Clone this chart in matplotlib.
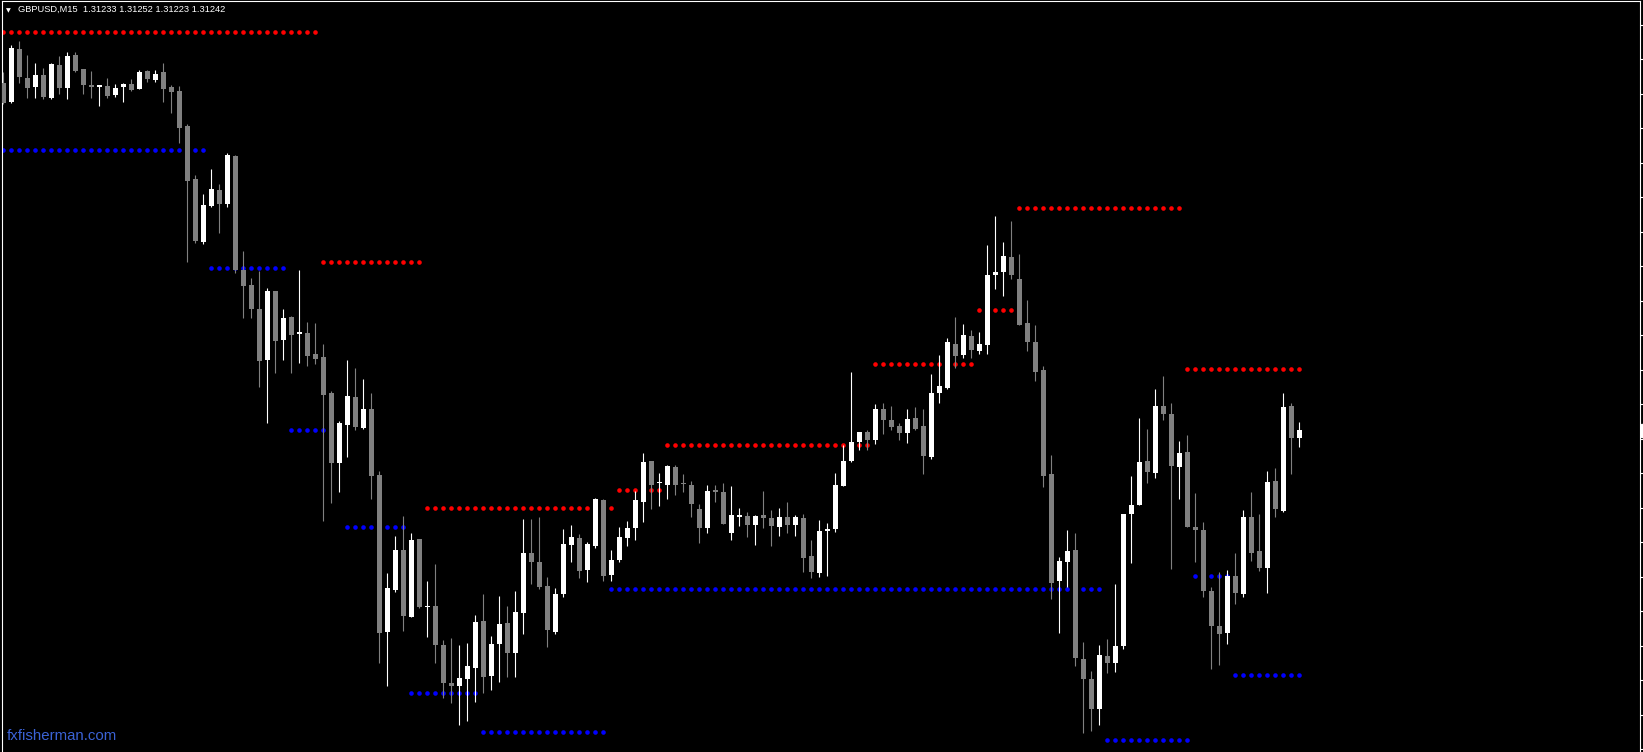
import numpy as np
import matplotlib
matplotlib.use('Agg')
import matplotlib.pyplot as plt

# GBPUSD M15 bars (oldest first)
symbol = "GBPUSD,M15"

opens = [
    1.31645, 1.31623, 1.31684, 1.31651, 1.31640, 1.31654, 1.31627, 1.31666, 1.31639, 1.31677,
    1.31661, 1.31642, 1.31640, 1.31641, 1.31631, 1.31640, 1.31644, 1.31638, 1.31659, 1.31648,
    1.31657, 1.31640, 1.31635, 1.31595, 1.31533, 1.31460, 1.31502, 1.31521, 1.31504, 1.31560,
    1.31428, 1.31410, 1.31383, 1.31323, 1.31403, 1.31347, 1.31373, 1.31354, 1.31355, 1.31330,
    1.31327, 1.31285, 1.31204, 1.31248, 1.31280, 1.31244, 1.31267, 1.31190, 1.31008, 1.31057,
    1.31103, 1.31025, 1.31116, 1.31037, 1.31038, 1.30993, 1.30949, 1.30945, 1.30953, 1.30966,
    1.31021, 1.30957, 1.30994, 1.31018, 1.30983, 1.31030, 1.31099, 1.31089, 1.31061, 1.31008,
    1.31052, 1.31109, 1.31117, 1.31080, 1.31108, 1.31161, 1.31074, 1.31091, 1.31117, 1.31128,
    1.31159, 1.31206, 1.31181, 1.31178, 1.31199, 1.31181, 1.31178, 1.31151, 1.31128, 1.31173,
    1.31170, 1.31123, 1.31141, 1.31142, 1.31132, 1.31144, 1.31140, 1.31130, 1.31141, 1.31132,
    1.31140, 1.31096, 1.31076, 1.31125, 1.31127, 1.31177, 1.31206, 1.31228, 1.31240, 1.31231,
    1.31267, 1.31254, 1.31247, 1.31239, 1.31256, 1.31247, 1.31211, 1.31285, 1.31291, 1.31342,
    1.31329, 1.31351, 1.31334, 1.31341, 1.31422, 1.31425, 1.31443, 1.31417, 1.31366, 1.31344,
    1.31312, 1.31191, 1.31067, 1.31089, 1.31103, 1.30977, 1.30953, 1.30919, 1.30980, 1.30972,
    1.30992, 1.31145, 1.31155, 1.31206, 1.31192, 1.31270, 1.31261, 1.31199, 1.31217, 1.31130,
    1.31126, 1.31055, 1.31015, 1.31007, 1.31073, 1.31052, 1.31141, 1.31102, 1.31082, 1.31183,
    1.31148, 1.31270, 1.31233,
]

highs = [
    1.31657, 1.31689, 1.31693, 1.31677, 1.31668, 1.31662, 1.31668, 1.31676, 1.31681, 1.31681,
    1.31661, 1.31659, 1.31642, 1.31651, 1.31644, 1.31645, 1.31649, 1.31660, 1.31660, 1.31660,
    1.31668, 1.31642, 1.31641, 1.31597, 1.31538, 1.31516, 1.31545, 1.31528, 1.31564, 1.31561,
    1.31450, 1.31419, 1.31427, 1.31407, 1.31403, 1.31383, 1.31374, 1.31428, 1.31367, 1.31366,
    1.31342, 1.31287, 1.31253, 1.31323, 1.31314, 1.31301, 1.31285, 1.31195, 1.31076, 1.31119,
    1.31142, 1.31123, 1.31116, 1.31067, 1.31087, 1.30999, 1.31001, 1.30993, 1.30995, 1.31028,
    1.31052, 1.31003, 1.31050, 1.31038, 1.31055, 1.31139, 1.31139, 1.31141, 1.31072, 1.31059,
    1.31127, 1.31132, 1.31122, 1.31112, 1.31163, 1.31162, 1.31103, 1.31130, 1.31137, 1.31171,
    1.31215, 1.31206, 1.31192, 1.31202, 1.31202, 1.31191, 1.31183, 1.31156, 1.31178, 1.31178,
    1.31181, 1.31177, 1.31152, 1.31147, 1.31144, 1.31171, 1.31149, 1.31152, 1.31159, 1.31144,
    1.31145, 1.31115, 1.31138, 1.31134, 1.31192, 1.31225, 1.31309, 1.31240, 1.31242, 1.31272,
    1.31273, 1.31270, 1.31250, 1.31267, 1.31269, 1.31267, 1.31307, 1.31329, 1.31349, 1.31373,
    1.31365, 1.31358, 1.31356, 1.31457, 1.31490, 1.31460, 1.31485, 1.31446, 1.31393, 1.31364,
    1.31316, 1.31213, 1.31095, 1.31126, 1.31123, 1.30996, 1.30963, 1.30993, 1.31000, 1.31064,
    1.31145, 1.31189, 1.31256, 1.31243, 1.31290, 1.31305, 1.31273, 1.31229, 1.31236, 1.31169,
    1.31135, 1.31060, 1.31077, 1.31080, 1.31099, 1.31149, 1.31170, 1.31145, 1.31195, 1.31198,
    1.31285, 1.31273, 1.31252,
]

lows = [
    1.31620, 1.31621, 1.31645, 1.31627, 1.31627, 1.31626, 1.31626, 1.31632, 1.31626, 1.31657,
    1.31632, 1.31627, 1.31618, 1.31627, 1.31628, 1.31623, 1.31635, 1.31638, 1.31646, 1.31646,
    1.31623, 1.31610, 1.31575, 1.31437, 1.31459, 1.31458, 1.31501, 1.31471, 1.31501, 1.31424,
    1.31372, 1.31372, 1.31292, 1.31250, 1.31308, 1.31323, 1.31308, 1.31320, 1.31316, 1.31319,
    1.31137, 1.31157, 1.31170, 1.31211, 1.31242, 1.31243, 1.31162, 1.30972, 1.30945, 1.31054,
    1.31009, 1.31025, 1.31036, 1.31002, 1.30972, 1.30931, 1.30925, 1.30900, 1.30905, 1.30927,
    1.30937, 1.30941, 1.30950, 1.30956, 1.30956, 1.31006, 1.31064, 1.31058, 1.30990, 1.31006,
    1.31048, 1.31089, 1.31070, 1.31066, 1.31105, 1.31067, 1.31067, 1.31089, 1.31108, 1.31115,
    1.31135, 1.31151, 1.31154, 1.31162, 1.31167, 1.31170, 1.31141, 1.31111, 1.31123, 1.31159,
    1.31133, 1.31115, 1.31131, 1.31118, 1.31109, 1.31128, 1.31108, 1.31119, 1.31123, 1.31119,
    1.31077, 1.31070, 1.31072, 1.31073, 1.31124, 1.31177, 1.31205, 1.31219, 1.31219, 1.31226,
    1.31238, 1.31242, 1.31231, 1.31227, 1.31242, 1.31191, 1.31209, 1.31273, 1.31290, 1.31314,
    1.31326, 1.31326, 1.31330, 1.31330, 1.31406, 1.31398, 1.31417, 1.31364, 1.31334, 1.31299,
    1.31176, 1.31046, 1.31007, 1.31060, 1.30968, 1.30891, 1.30893, 1.30900, 1.30960, 1.30961,
    1.30988, 1.31088, 1.31155, 1.31181, 1.31186, 1.31254, 1.31081, 1.31162, 1.31130, 1.31089,
    1.31048, 1.30965, 1.30970, 1.30994, 1.31040, 1.31048, 1.31090, 1.31079, 1.31053, 1.31141,
    1.31147, 1.31191, 1.31223,
]

closes = [
    1.31621, 1.31685, 1.31652, 1.31639, 1.31654, 1.31628, 1.31667, 1.31639, 1.31676, 1.31659,
    1.31642, 1.31640, 1.31642, 1.31630, 1.31639, 1.31644, 1.31637, 1.31657, 1.31649, 1.31655,
    1.31638, 1.31634, 1.31592, 1.31531, 1.31461, 1.31503, 1.31522, 1.31504, 1.31561, 1.31428,
    1.31409, 1.31383, 1.31322, 1.31403, 1.31345, 1.31372, 1.31352, 1.31356, 1.31328, 1.31325,
    1.31283, 1.31204, 1.31250, 1.31282, 1.31246, 1.31267, 1.31189, 1.31007, 1.31059, 1.31103,
    1.31026, 1.31115, 1.31037, 1.31038, 1.30993, 1.30949, 1.30945, 1.30955, 1.30968, 1.31019,
    1.30956, 1.30994, 1.31017, 1.30983, 1.31031, 1.31099, 1.31089, 1.31060, 1.31010, 1.31052,
    1.31110, 1.31118, 1.31079, 1.31110, 1.31162, 1.31073, 1.31091, 1.31118, 1.31128, 1.31161,
    1.31205, 1.31178, 1.31182, 1.31200, 1.31178, 1.31180, 1.31156, 1.31128, 1.31171, 1.31170,
    1.31133, 1.31144, 1.31144, 1.31132, 1.31142, 1.31140, 1.31131, 1.31141, 1.31132, 1.31141,
    1.31094, 1.31077, 1.31125, 1.31127, 1.31178, 1.31206, 1.31228, 1.31240, 1.31231, 1.31267,
    1.31254, 1.31246, 1.31239, 1.31255, 1.31243, 1.31212, 1.31285, 1.31293, 1.31344, 1.31328,
    1.31352, 1.31335, 1.31342, 1.31422, 1.31425, 1.31444, 1.31422, 1.31364, 1.31344, 1.31309,
    1.31189, 1.31065, 1.31090, 1.31102, 1.30978, 1.30953, 1.30919, 1.30981, 1.30972, 1.30992,
    1.31145, 1.31155, 1.31205, 1.31193, 1.31270, 1.31261, 1.31200, 1.31215, 1.31130, 1.31126,
    1.31055, 1.31015, 1.31006, 1.31073, 1.31053, 1.31141, 1.31099, 1.31082, 1.31182, 1.31151,
    1.31269, 1.31233, 1.31242,
]

# Resistance levels (red dots): first bar, last bar, price
red_start = [0, 40, 53, 77, 83, 109, 122, 127, 148]
red_end = [39, 52, 76, 82, 108, 121, 126, 147, 162]
red_price = [1.31704, 1.31437, 1.31152, 1.31173, 1.31225, 1.31319, 1.31381, 1.31500, 1.31313]

# Support levels (blue dots)
blue_start = [0, 26, 36, 43, 51, 60, 76, 138, 149, 154]
blue_end = [25, 35, 42, 50, 59, 75, 137, 148, 153, 162]
blue_price = [1.31567, 1.31430, 1.31242, 1.31130, 1.30937, 1.30892, 1.31058, 1.30883, 1.31073, 1.30958]

# price scale marks on the right edge
price_ticks = [1.31712, 1.31672, 1.31632, 1.31592, 1.31552, 1.31512, 1.31472, 1.31432,
               1.31392, 1.31352, 1.31312, 1.31272, 1.31232, 1.31192, 1.31152, 1.31112,
               1.31072, 1.31032, 1.30992, 1.30952, 1.30912, 1.30872]


W, H = 1643, 752
fig = plt.figure(figsize=(W / 100, H / 100), dpi=100, facecolor='black')
ax = fig.add_axes([2 / W, 0, 1638 / W, 751 / H])
ax.set_facecolor('black')

o = np.array(opens)
h = np.array(highs)
l = np.array(lows)
c = np.array(closes)
x = np.arange(len(o))
bull = c >= o
colors = np.where(bull, 'white', '#808080')

# Level dots, one per bar, behind the candles
for s, e, p in zip(red_start, red_end, red_price):
    xs = np.arange(s, e + 1)
    ax.plot(xs, [p] * len(xs), 'o', color='#ff0000', ms=3.3, mew=0, zorder=1)
for s, e, p in zip(blue_start, blue_end, blue_price):
    xs = np.arange(s, e + 1)
    ax.plot(xs, [p] * len(xs), 'o', color='#0000ff', ms=3.3, mew=0, zorder=1)

# Candles
ax.vlines(x, l, h, colors=colors, linewidth=0.8, zorder=2)
body = np.maximum(np.abs(c - o), 0.000012)
ax.bar(x, body, bottom=np.minimum(o, c), width=0.625, color=colors,
       linewidth=0, zorder=3)

ax.set_xlim(-0.125, 204.625)
ax.set_ylim(1.3086868, 1.3173984)

for side in ['top', 'left', 'right']:
    ax.spines[side].set_color('white')
    ax.spines[side].set_linewidth(0.8)
ax.spines['bottom'].set_visible(False)

ax.set_xticks([])
ax.yaxis.tick_right()
ax.set_yticks(price_ticks)
ax.tick_params(axis='y', direction='out', length=2.5, width=0.8,
               colors='white', labelright=False)

# Current price label (mostly cut off at the right edge)
ax.text(1.0012, c[-1], '{:.5f}'.format(c[-1]), transform=ax.get_yaxis_transform(),
        ha='left', va='center', fontsize=7, color='black', clip_on=False,
        bbox=dict(facecolor='white', edgecolor='white', pad=1.0))

# Header line
header = "{}  {:.5f} {:.5f} {:.5f} {:.5f}".format(symbol, o[-1], h[-1], l[-1], c[-1])
fig.text(6 / W, 1 - 12 / H, '\u25bc', color='white', fontsize=4.5,
         family='DejaVu Sans', va='baseline')
fig.text(18 / W, 1 - 12 / H, header, color='white', fontsize=6.65,
         family='Liberation Sans', va='baseline')

# Watermark
fig.text(7 / W, 1 - 740 / H, 'fxfisherman.com', color='#3b63d6', fontsize=10.8,
         family='Liberation Sans', va='baseline')

fig.savefig('out.png', dpi=100, facecolor='black')
